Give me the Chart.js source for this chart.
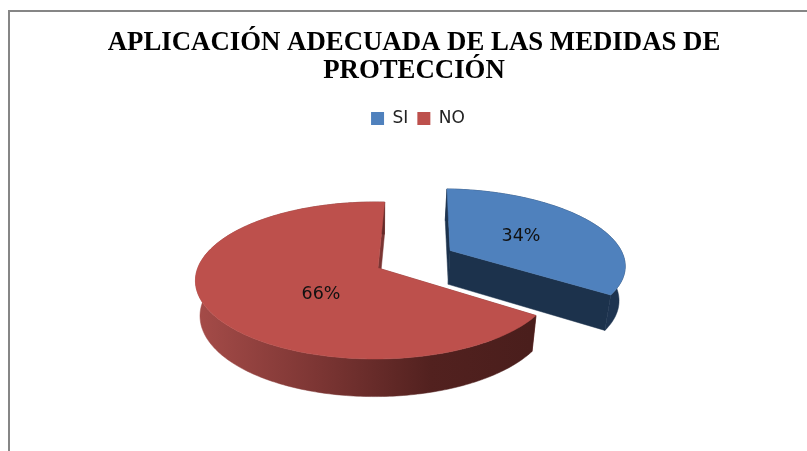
<!DOCTYPE html>
<html><head><meta charset="utf-8">
<style>html,body{margin:0;padding:0;background:#fff;overflow:hidden}#w{position:absolute;left:0;top:0;width:807px;height:451px}</style>
<script src="https://cdn.jsdelivr.net/npm/chart.js@4"></script>
</head><body><div id="w"><canvas id="c" width="807" height="451"></canvas></div>
<script>
const titleLines = ["APLICACIÓN ADECUADA DE LAS MEDIDAS DE", "PROTECCIÓN"];
const categories = ["SI", "NO"];
const shares = [34, 66];
const sliceColors = ["#4f81bd", "#bd504c"];
const explode = [0.47, 0];

const CX = 378, CY = 268, RX = 177.5, RY = 76.5, K = 0.159, DEPTH = 34.5, BOTTOM_X = 0.975, LIFT = 0.03;
const SKEW = [0, 0.015];
const LABEL_POS = [[521, 236], [321, 294]];

function project(u, v, low, i) {
  const w = 1 / (1 - K * v + SKEW[i] * u);
  let x = RX * u * w, y = RY * v * w;
  if (low) { x *= BOTTOM_X; y += DEPTH * Math.sqrt(w); }
  return [CX + x, CY + y];
}
function sliceWorld(el, i) {
  const mid = (el.startAngle + el.endAngle) / 2;
  const ox = explode[i] * Math.cos(mid), oy = explode[i] * Math.sin(mid) - (explode[i] ? LIFT : 0);
  const pts = [];
  const n = Math.ceil((el.endAngle - el.startAngle) * 180 / Math.PI);
  for (let k = 0; k <= n; k++) {
    const a = el.startAngle + (el.endAngle - el.startAngle) * k / n;
    pts.push([ox + Math.cos(a), oy + Math.sin(a)]);
  }
  return { apex: [ox, oy], pts };
}
function poly(ctx, list, fill) {
  ctx.beginPath();
  list.forEach((p, i) => i ? ctx.lineTo(p[0], p[1]) : ctx.moveTo(p[0], p[1]));
  ctx.closePath();
  ctx.fillStyle = fill; ctx.fill();
  ctx.strokeStyle = fill; ctx.lineWidth = 0.5; ctx.stroke();
}
const pie3d = {
  id: "pie3d",
  afterLayout(chart) { chart.legend.left += 8; },
  beforeDraw(chart) {
    const c = chart.ctx;
    c.save(); c.fillStyle = "#868686";
    c.fillRect(8, 10, 799, 2); c.fillRect(8, 10, 2, 441); c.restore();
  },
  beforeDatasetsDraw(chart) {
    const ctx = chart.ctx, arcs = chart.getDatasetMeta(0).data;
    const grad = ctx.createLinearGradient(200, 0, 530, 0);
    grad.addColorStop(0, "#a44b48"); grad.addColorStop(0.35, "#7d3634");
    grad.addColorStop(0.7, "#52211f"); grad.addColorStop(1, "#4a1e1c");
    const rim = ["#1e3450", grad], cut = ["#1c324c", "#7a3533"];
    arcs.forEach((el, i) => {
      const s = sliceWorld(el, i);
      const first = s.pts[0], last = s.pts[s.pts.length - 1];
      [first, last].forEach(p => poly(ctx, [
        project(s.apex[0], s.apex[1], false, i), project(p[0], p[1], false, i),
        project(p[0], p[1], true, i), project(s.apex[0], s.apex[1], true, i)], cut[i]));
      const top = s.pts.map(p => project(p[0], p[1], false, i));
      const low = s.pts.map(p => project(p[0], p[1], true, i)).reverse();
      poly(ctx, top.concat(low), rim[i]);
      poly(ctx, [project(s.apex[0], s.apex[1], false, i)].concat(top), sliceColors[i]);
    });
    ctx.save();
    ctx.font = "17.5px 'DejaVu Sans'"; ctx.fillStyle = "#111";
    ctx.textAlign = "center"; ctx.textBaseline = "middle";
    shares.forEach((v, i) => ctx.fillText(v + "%", LABEL_POS[i][0], LABEL_POS[i][1]));
    ctx.restore();
    return false;
  }
};
new Chart(document.getElementById("c"), {
  type: "pie",
  data: { labels: categories, datasets: [{ data: shares, backgroundColor: sliceColors, borderWidth: 0 }] },
  options: {
    responsive: false, animation: false, rotation: 2.5,
    layout: { padding: { left: 21, top: 29 } },
    plugins: {
      tooltip: { enabled: false },
      title: { display: true, text: titleLines, color: "#000",
        font: { family: "'Liberation Serif'", size: 26.8, weight: "bold", lineHeight: 1.045 },
        padding: { top: 0, bottom: 16 } },
      legend: { position: "top", labels: { color: "#222", boxWidth: 13, boxHeight: 13, padding: 9,
        font: { family: "'DejaVu Sans'", size: 17 } } }
    }
  },
  plugins: [pie3d]
});
</script></body></html>
